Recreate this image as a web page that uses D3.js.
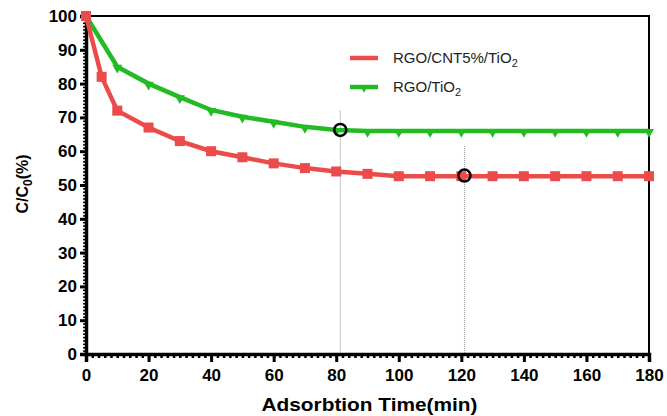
<!DOCTYPE html>
<html>
<head>
<meta charset="utf-8">
<script src="https://cdn.jsdelivr.net/npm/d3@7"></script>
<style>
  body { margin: 0; background: #fff; }
  text { font-family: "Liberation Sans", Arial, sans-serif; }
</style>
</head>
<body>
<svg id="chart" width="667" height="416"></svg>
<script>
// values
var redTimes = [0, 5, 10, 20, 30, 40, 50, 60, 70, 80, 90, 100, 110, 120, 130, 140, 150, 160, 170, 180];
var redValues = [100, 82, 72, 67, 63, 60, 58.2, 56.4, 55, 54, 53.3, 52.6, 52.6, 52.6, 52.6, 52.6, 52.6, 52.6, 52.6, 52.6];
var greenTimes = [0, 10, 20, 30, 40, 50, 60, 70, 80, 90, 100, 110, 120, 130, 140, 150, 160, 170, 180];
var greenValues = [100, 85, 80, 76, 72.2, 70.2, 68.7, 67.2, 66.3, 66, 66, 66, 66, 66, 66, 66, 66, 66, 66];
var xTicks = [0, 20, 40, 60, 80, 100, 120, 140, 160, 180];
var yTicks = [0, 10, 20, 30, 40, 50, 60, 70, 80, 90, 100];
var seriesNames = ["RGO/CNT5%/TiO", "RGO/TiO"];
var circleTimes = [81.3, 121];
var circleValues = [66.3, 52.8];
var dropTops = [72, 61.5];

var red = "#ec4b4b", green = "#22bb22";

var svg = d3.select("#chart");
var x = d3.scaleLinear().domain([0, 180]).range([86, 649]);
var y = d3.scaleLinear().domain([0, 100]).range([354, 16]);

// frame top + right
svg.append("path")
  .attr("d", "M" + x(0) + "," + y(100) + "H" + x(180) + "V" + y(0))
  .attr("fill", "none").attr("stroke", "#000").attr("stroke-width", 2);

// dotted drop lines
svg.selectAll(".drop")
  .data(circleTimes)
  .enter()
  .append("line")
  .attr("x1", function(d) { return x(d); })
  .attr("x2", function(d) { return x(d); })
  .attr("y1", function(d, i) { return y(dropTops[i]); })
  .attr("y2", y(0))
  .attr("stroke", "#777").attr("stroke-width", 0.8)
  .attr("stroke-dasharray", "1,1");

// minor ticks
var xAxisMinor = d3.axisBottom(x).tickValues(d3.range(0, 181, 2)).tickSize(4).tickFormat("");
var yAxisMinor = d3.axisLeft(y).tickValues(d3.range(0, 101, 1)).tickSize(3).tickFormat("");
svg.append("g").attr("transform", "translate(0," + y(0) + ")").call(xAxisMinor)
  .call(function(g) { g.selectAll("line").attr("stroke-width", 2.5); g.select(".domain").remove(); });
svg.append("g").attr("transform", "translate(" + x(0) + ",0)").call(yAxisMinor)
  .call(function(g) { g.selectAll("line").attr("stroke-width", 1.5); g.select(".domain").remove(); });

// major axes
var xAxis = d3.axisBottom(x).tickValues(xTicks).tickSize(8).tickPadding(7);
var yAxis = d3.axisLeft(y).tickValues(yTicks).tickSize(6).tickPadding(3);
function styleAxis(g) {
  g.select(".domain").attr("stroke-width", 3.5);
  g.selectAll("line").attr("stroke-width", 3);
  g.selectAll("text").attr("font-size", 17).attr("font-weight", "bold").attr("fill", "#000")
    .attr("font-family", "Liberation Sans, Arial, sans-serif");
}
svg.append("g").attr("transform", "translate(0," + y(0) + ")").call(xAxis).call(styleAxis);
svg.append("g").attr("transform", "translate(" + x(0) + ",0)").call(yAxis).call(styleAxis);

// lines
var line = d3.line()
  .x(function(d) { return x(d[0]); })
  .y(function(d) { return y(d[1]); });

var greenData = d3.zip(greenTimes, greenValues);
var redData = d3.zip(redTimes, redValues);

svg.append("path").datum(greenData).attr("d", line)
  .attr("fill", "none").attr("stroke", green).attr("stroke-width", 4.5);
svg.append("path").datum(redData).attr("d", line)
  .attr("fill", "none").attr("stroke", red).attr("stroke-width", 4.5);

// markers
svg.selectAll(".tri")
  .data(greenData)
  .enter()
  .append("path")
  .attr("d", d3.symbol().type(d3.symbolTriangle).size(45))
  .attr("transform", function(d) { return "translate(" + x(d[0]) + "," + (y(d[1]) + 1) + ") rotate(180)"; })
  .attr("fill", green);

svg.selectAll(".sq")
  .data(redData)
  .enter()
  .append("rect")
  .attr("x", function(d) { return x(d[0]) - 5; })
  .attr("y", function(d) { return y(d[1]) - 5; })
  .attr("width", 10).attr("height", 10)
  .attr("fill", red);

// highlight circles
svg.selectAll(".ring")
  .data(circleTimes)
  .enter()
  .append("circle")
  .attr("cx", function(d) { return x(d); })
  .attr("cy", function(d, i) { return y(circleValues[i]); })
  .attr("r", 6)
  .attr("fill", "none").attr("stroke", "#000").attr("stroke-width", 2.5);

// legend
var legend = svg.append("g").attr("transform", "translate(350,58)");
var legendColors = [red, green];
var item = legend.selectAll("g")
  .data(seriesNames)
  .enter()
  .append("g")
  .attr("transform", function(d, i) { return "translate(0," + (i * 29) + ")"; });
item.append("line")
  .attr("x1", 0).attr("x2", 28).attr("y1", 0).attr("y2", 0)
  .attr("stroke", function(d, i) { return legendColors[i]; })
  .attr("stroke-width", 4.5);
item.filter(function(d, i) { return i === 1; })
  .append("path")
  .attr("d", d3.symbol().type(d3.symbolTriangle).size(30))
  .attr("transform", "translate(14,1) rotate(180)")
  .attr("fill", green);
var lt = item.append("text")
  .attr("x", 43).attr("y", 5)
  .attr("font-size", 15).attr("fill", "#222");
lt.append("tspan").text(function(d) { return d; });
lt.append("tspan").attr("dy", 4).attr("font-size", 11).text("2");

// axis titles
svg.append("text")
  .attr("x", x(90) + 2).attr("y", 411)
  .attr("text-anchor", "middle")
  .attr("font-size", 19).attr("font-weight", "bold")
  .attr("textLength", 216).attr("lengthAdjust", "spacingAndGlyphs")
  .text("Adsorbtion Time(min)");

var yl = svg.append("text")
  .attr("transform", "translate(28,184) rotate(-90)")
  .attr("text-anchor", "middle")
  .attr("font-size", 16).attr("font-weight", "bold");
yl.append("tspan").text("C/C");
yl.append("tspan").attr("dy", 4).attr("font-size", 12).text("0");
yl.append("tspan").attr("dy", -4).text("(%)");
</script>
</body>
</html>
